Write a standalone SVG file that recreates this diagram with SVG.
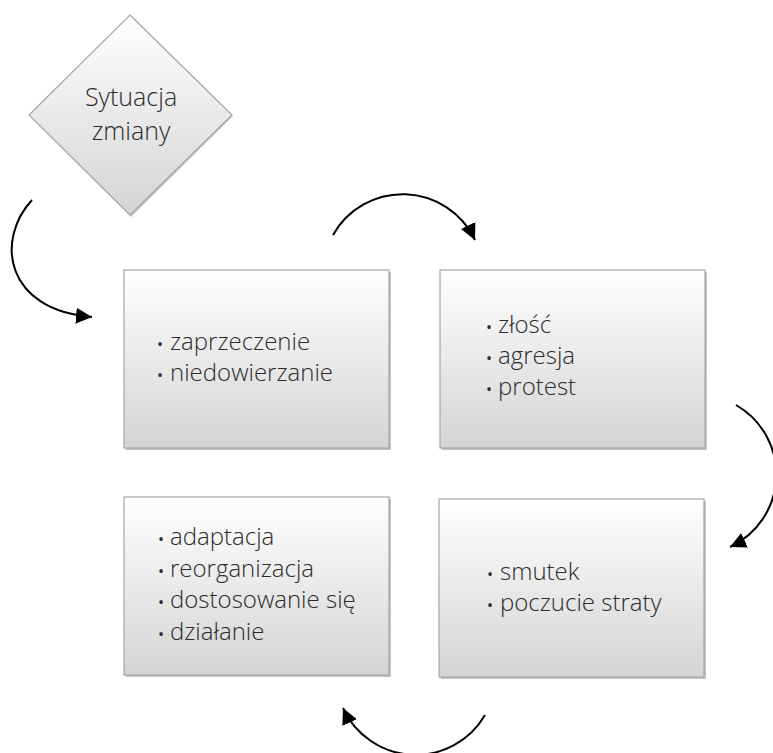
<svg xmlns="http://www.w3.org/2000/svg" width="773" height="753" viewBox="0 0 773 753">
<style>
.box{fill:url(#g);stroke:#a6a6a6;stroke-width:1.2}
.shadow{fill:#c4c4c4}
.t{font-family:"Open Sans","Liberation Sans",sans-serif;font-weight:300;font-size:24px;fill:#2b2b2b}
.d{font-family:"Open Sans","Liberation Sans",sans-serif;font-weight:300;font-size:25px;fill:#2b2b2b}
.b{font-family:"Open Sans","Liberation Sans",sans-serif;font-size:16px;fill:#2b2b2b}
.arc{fill:none;stroke:#000;stroke-width:2}
</style>
<defs>
<linearGradient id="g" x1="0" y1="0" x2="0" y2="1">
<stop offset="0" stop-color="#ffffff"/>
<stop offset="1" stop-color="#d4d4d4"/>
</linearGradient>
<marker id="ah" markerUnits="userSpaceOnUse" markerWidth="20" markerHeight="20" refX="16" refY="8" orient="auto">
<path d="M0,0 L16,8 L0,16 Z" fill="#000"/>
</marker>
</defs>
<g id="n0">
<path class="shadow" d="M131,16 L233,116 L131,217 L30,116 Z"/>
<path class="box" d="M130,15 L232,115 L130,215 L29,115 Z"/>
<text class="d" x="131" y="106" text-anchor="middle">Sytuacja</text>
<text class="d" x="131" y="140" text-anchor="middle">zmiany</text>
</g>
<g id="n1">
<rect class="shadow" x="126" y="272" width="265" height="178"/>
<rect class="box" x="124" y="270" width="265" height="178"/>
<text class="b" x="157" y="350">•</text><text class="t" x="170" y="350">zaprzeczenie</text>
<text class="b" x="157" y="381">•</text><text class="t" x="170" y="381">niedowierzanie</text>
</g>
<g id="n2">
<rect class="shadow" x="442" y="272" width="265" height="178"/>
<rect class="box" x="440" y="270" width="265" height="178"/>
<text class="b" x="486" y="333">•</text><text class="t" x="498" y="333">złość</text>
<text class="b" x="486" y="364">•</text><text class="t" x="498" y="364">agresja</text>
<text class="b" x="486" y="395">•</text><text class="t" x="498" y="395">protest</text>
</g>
<g id="n3">
<rect class="shadow" x="126" y="499" width="265" height="178"/>
<rect class="box" x="124" y="497" width="265" height="178"/>
<text class="b" x="158" y="545">•</text><text class="t" x="170" y="545">adaptacja</text>
<text class="b" x="158" y="577">•</text><text class="t" x="170" y="577">reorganizacja</text>
<text class="b" x="158" y="608">•</text><text class="t" x="170" y="608">dostosowanie się</text>
<text class="b" x="158" y="640">•</text><text class="t" x="170" y="640">działanie</text>
</g>
<g id="n4">
<rect class="shadow" x="441" y="501" width="265" height="178"/>
<rect class="box" x="439" y="499" width="265" height="178"/>
<text class="b" x="487" y="580">•</text><text class="t" x="500" y="580">smutek</text>
<text class="b" x="487" y="611">•</text><text class="t" x="500" y="611">poczucie straty</text>
</g>
<g id="connectors">
<path class="arc" marker-end="url(#ah)" d="M32,200 C-5,240 5,310 92,317"/>
<path class="arc" marker-end="url(#ah)" d="M333,235 A80 80 0 0 1 475,240"/>
<path class="arc" marker-end="url(#ah)" d="M736,405 A80 80 0 0 1 730,547"/>
<path class="arc" marker-end="url(#ah)" d="M485,715 A80 80 0 0 1 343,708"/>
</g>
</svg>
